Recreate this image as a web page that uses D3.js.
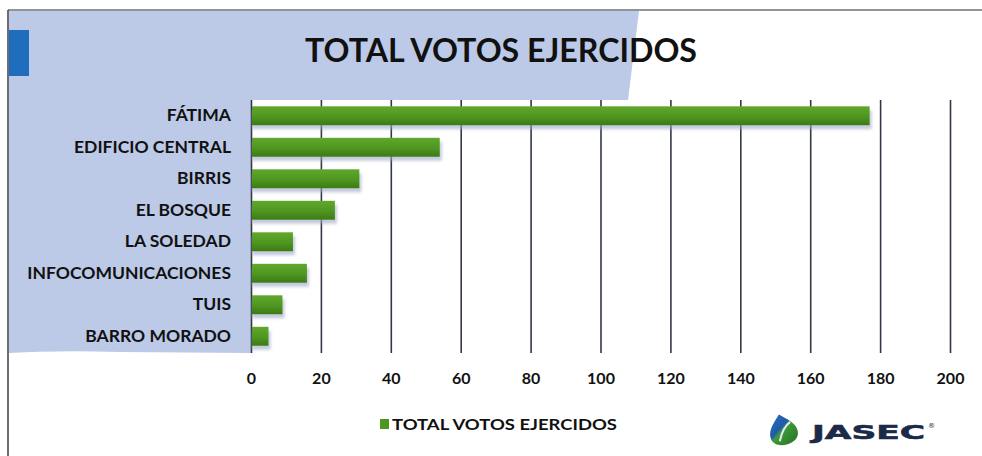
<!DOCTYPE html>
<html>
<head>
<meta charset="utf-8">
<script src="https://cdnjs.cloudflare.com/ajax/libs/d3/7.8.5/d3.min.js"></script>
<style>
  body{margin:0;background:#fff;}
  svg{display:block;}
</style>
</head>
<body>
<div id="plot"></div>
<script>
// data
var categories = ['FÁTIMA','EDIFICIO CENTRAL','BIRRIS','EL BOSQUE','LA SOLEDAD','INFOCOMUNICACIONES','TUIS','BARRO MORADO'];
var votos = [177,54,31,24,12,16,9,5];
var ticks = [0,20,40,60,80,100,120,140,160,180,200];
var seriesName = 'TOTAL VOTOS EJERCIDOS';

var W = 982, H = 456;
var margin = {t:100,r:32,b:103,l:251};

var svg = d3.select('#plot')
	.append('svg')
	.attr('width',W)
	.attr('height',H);

var defs = svg.append('defs');
var grad = defs.append('linearGradient').attr('id','barGrad').attr('x1',0).attr('y1',0).attr('x2',0).attr('y2',1);
grad.append('stop').attr('offset','0%').attr('stop-color','#5fa82c');
grad.append('stop').attr('offset','55%').attr('stop-color','#4f9620');
grad.append('stop').attr('offset','100%').attr('stop-color','#3c7a14');

var blur = defs.append('filter').attr('id','shadow').attr('x','-10%').attr('y','-30%').attr('width','130%').attr('height','180%');
blur.append('feGaussianBlur').attr('stdDeviation',1.5);

var drop = defs.append('linearGradient').attr('id','dropGrad').attr('x1',0).attr('y1',0).attr('x2',0.6).attr('y2',1);
drop.append('stop').attr('offset','0%').attr('stop-color','#2f6fc4');
drop.append('stop').attr('offset','50%').attr('stop-color','#1e5aa8');
drop.append('stop').attr('offset','60%').attr('stop-color','#3f9a3a');
drop.append('stop').attr('offset','100%').attr('stop-color','#2d7d2a');

//slide background: the blue-grey panel behind the left side
svg.append('path')
	.attr('d','M9,11 L639,11 L628,100 L251,100 L251,353 L120,352 Q60,350 9,353 Z')
	.style('fill','#bccae8');

//frame lines
svg.append('line').attr('x1',8).attr('x2',W).attr('y1',10).attr('y2',10)
	.style('stroke','#6b6f78').style('stroke-width',1.5);
svg.append('line').attr('x1',8).attr('x2',8).attr('y1',10).attr('y2',H)
	.style('stroke','#3a3d44').style('stroke-width',1.5);

//blue tab
svg.append('rect').attr('x',9).attr('y',30).attr('width',20).attr('height',46)
	.style('fill','#1f6dbd');

//title
svg.append('text')
	.attr('x',501).attr('y',62)
	.attr('text-anchor','middle')
	.attr('textLength',392)
	.attr('lengthAdjust','spacingAndGlyphs')
	.style('font-family','Lato, sans-serif')
	.style('font-weight','700')
	.style('font-size','32px')
	.style('fill','#111')
	.text(seriesName);

var plot = svg.append('g')
	.attr('class','plot')
	.attr('transform','translate('+margin.l+','+margin.t+')');

var x = d3.scaleLinear().domain([0,200]).range([0,699]);
var y = d3.scaleBand().domain(categories).range([0,252]).paddingInner(0.4).paddingOuter(0.2);

//gridlines (x axis with long ticks)
var xAxis = plot.append('g')
	.call(d3.axisBottom(x).tickValues(ticks).tickSize(253).tickFormat(''));
xAxis.select('.domain').remove();
xAxis.selectAll('line').style('stroke','#333845').style('stroke-width',1.6);

//tick labels
plot.append('g')
	.attr('transform','translate(0,'+273+')')
	.call(d3.axisBottom(x).tickValues(ticks).tickSize(0).tickPadding(0))
	.call(function(g){
		g.select('.domain').remove();
		g.selectAll('text')
			.style('font-family','Lato, sans-serif')
			.style('font-weight','700')
			.style('font-size','16px')
			.style('fill','#111');
	});

//category labels
plot.append('g')
	.attr('transform','translate(-20,0)')
	.call(d3.axisLeft(y).tickSize(0).tickPadding(0))
	.call(function(g){
		g.select('.domain').remove();
		g.selectAll('text')
			.style('font-family','Lato, sans-serif')
			.style('font-weight','700')
			.style('font-size','17.5px')
			.style('fill','#111');
	});

//shadows first then bars
plot.selectAll('.shadow')
	.data(votos)
	.enter()
	.append('rect')
	.attr('class','shadow')
	.attr('x',x(0)+1)
	.attr('y',function(d,i){return y(categories[i])+4;})
	.attr('width',function(d){return x(d)-x(0)+1;})
	.attr('height',y.bandwidth())
	.attr('filter','url(#shadow)')
	.style('fill','#9aa6c4')
	.style('opacity',0.6);

plot.selectAll('.bar')
	.data(votos)
	.enter()
	.append('rect')
	.attr('class','bar')
	.attr('x',x(0)+1)
	.attr('y',function(d,i){return y(categories[i]);})
	.attr('width',function(d){return x(d)-x(0)-1;})
	.attr('height',y.bandwidth())
	.style('fill','url(#barGrad)');

//legend
var leg = svg.append('g').attr('transform','translate(380,424)');
leg.append('rect').attr('x',0).attr('y',-5).attr('width',9).attr('height',10).style('fill','#4f9620');
leg.append('text')
	.attr('x',12).attr('y',5.5)
	.attr('textLength',225)
	.attr('lengthAdjust','spacingAndGlyphs')
	.style('font-family','Lato, sans-serif')
	.style('font-weight','700')
	.style('font-size','15px')
	.style('fill','#111')
	.text(seriesName);

//JASEC logo
var logo = svg.append('g').attr('transform','translate(783,430) rotate(-15)');
logo.append('path')
	.attr('d','M0,-16 C6,-10 14,-4 14,4 C14,11 8,15 0,15 C-8,15 -14,11 -14,4 C-14,-4 -6,-10 0,-16 Z')
	.style('fill','url(#dropGrad)');
logo.append('path')
	.attr('d','M-6,10 C-2,2 4,-4 9,-6')
	.style('fill','none').style('stroke','#dfe9f5').style('stroke-width',2);
svg.append('text')
	.attr('x',812).attr('y',439)
	.attr('textLength',113)
	.attr('lengthAdjust','spacingAndGlyphs')
	.style('font-family','"DejaVu Sans", sans-serif')
	.style('font-weight','700')
	.style('font-size','20px')
	.style('stroke','#1b2a48')
	.style('stroke-width',0.6)
	.style('fill','#1b2a48')
	.text('JASEC');
svg.append('text')
	.attr('x',928).attr('y',428)
	.style('font-family','"DejaVu Sans", sans-serif')
	.style('font-size','7px')
	.style('fill','#1b2a48')
	.text('®');
</script>
</body>
</html>
